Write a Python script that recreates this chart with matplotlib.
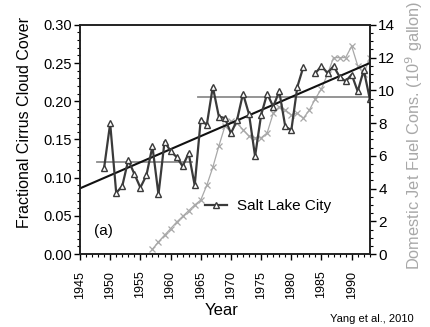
import numpy as np
import matplotlib
matplotlib.use('Agg')
import matplotlib.pyplot as plt
from matplotlib.ticker import MultipleLocator, FormatStrFormatter

plt.rcParams['font.family'] = ['Liberation Sans', 'DejaVu Sans']

# cirrus cloud cover, Salt Lake City (1983 missing)
cloud_years = list(range(1949, 1994))
cloud_vals = [0.113, 0.171, 0.080, 0.089, 0.123, 0.105, 0.087, 0.103, 0.141, 0.078,
              0.147, 0.135, 0.127, 0.115, 0.132, 0.090, 0.176, 0.169, 0.219, 0.180,
              0.178, 0.158, 0.175, 0.210, 0.183, 0.128, 0.182, 0.210, 0.193, 0.213,
              0.167, 0.162, 0.219, 0.245, np.nan, 0.237, 0.246, 0.237, 0.246, 0.232,
              0.226, 0.235, 0.213, 0.241, 0.203]

# domestic jet fuel consumption (10^9 gallon)
fuel_years = list(range(1957, 1994))
fuel_vals = [0.3, 0.75, 1.15, 1.55, 1.95, 2.3, 2.65, 3.0, 3.3, 4.2,
             5.3, 6.6, 7.8, 8.1, 8.0, 7.6, 7.2, 7.1, 7.1, 7.4,
             8.6, 9.0, 8.8, 8.5, 8.6, 8.3, 8.8, 9.5, 10.1, 11.0,
             12.0, 12.0, 12.0, 12.7, 11.5, 11.0, 12.0]

# trend line and period means
trend_years = [1945, 1993]
trend_vals = [0.086, 0.250]
mean1_years = [1947.8, 1963.6]
mean1_vals = [0.121, 0.121]
mean2_years = [1964.6, 1993]
mean2_vals = [0.206, 0.206]

fig = plt.figure(figsize=(4.30, 3.27), dpi=100)
ax = fig.add_axes([0.186, 0.223, 0.674, 0.701])
ax2 = ax.twinx()

ax2.plot(fuel_years, fuel_vals, color='#a8a8a8', lw=0.9, marker='x', ms=4.5, mew=0.9)

ax.set_zorder(ax2.get_zorder() + 1)
ax.patch.set_visible(False)

ax.plot(mean1_years, mean1_vals, color='#8c8c8c', lw=1.3)
ax.plot(mean2_years, mean2_vals, color='#8c8c8c', lw=1.3)
ax.plot(trend_years, trend_vals, color='#111111', lw=1.5)
line, = ax.plot(cloud_years, cloud_vals, color='#3a3a3a', lw=1.6, marker='^', ms=4.5,
                mfc='white', mec='#3a3a3a', mew=1.0)

ax.set_xlim(1945, 1993)
ax.set_ylim(0, 0.30)
ax2.set_ylim(0, 14)

ax.xaxis.set_major_locator(MultipleLocator(5))
ax.xaxis.set_minor_locator(MultipleLocator(1))
ax.yaxis.set_major_locator(MultipleLocator(0.05))
ax.yaxis.set_minor_locator(MultipleLocator(0.01))
ax.yaxis.set_major_formatter(FormatStrFormatter('%.2f'))
ax2.yaxis.set_major_locator(MultipleLocator(2))
ax2.yaxis.set_minor_locator(MultipleLocator(0.5))

ax.tick_params(axis='x', which='major', length=4, width=1, labelsize=9, labelrotation=90, pad=8)
ax.tick_params(axis='x', which='minor', length=2.5, width=0.8)
ax.tick_params(axis='y', which='major', length=4, width=1, labelsize=10.5, pad=2)
ax.tick_params(axis='y', which='minor', length=2, width=0.8)
ax2.tick_params(axis='y', which='major', length=4, width=1, labelsize=11, pad=2)
ax2.tick_params(axis='y', which='minor', length=2, width=0.8)

for a in (ax, ax2):
    for s in a.spines.values():
        s.set_linewidth(1.2)
        s.set_color('#222222')

ax.set_xlabel('Year', fontsize=12)
ax.xaxis.set_label_coords(0.490, -0.214)
ax.set_ylabel('Fractional Cirrus Cloud Cover', fontsize=11.5)
ax.yaxis.set_label_coords(-0.166, 0.572)
ax2.set_ylabel('Domestic Jet Fuel Cons. (10$^9$ gallon)', fontsize=11.8, color='#a8a8a8')
ax2.yaxis.set_label_coords(1.114, 0.52)

ax.text(0.05, 0.10, '(a)', transform=ax.transAxes, fontsize=11, va='center', ha='left')
ax.legend([line], ['Salt Lake City'], loc='center left', bbox_to_anchor=(0.385, 0.21),
          frameon=False, fontsize=11, handlelength=1.4, handletextpad=0.7, numpoints=1)

fig.text(330 / 430, 1 - 319 / 327, 'Yang et al., 2010', fontsize=8, va='center', ha='left')

fig.savefig('out.png', dpi=100)
